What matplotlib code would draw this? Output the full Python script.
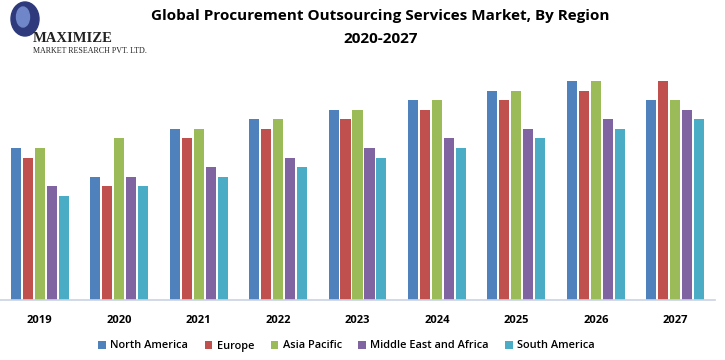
import numpy as np
import matplotlib.pyplot as plt
from matplotlib.patches import Ellipse

years = ['2019', '2020', '2021', '2022', '2023', '2024', '2025', '2026', '2027']
regions = ['North America', 'Europe', 'Asia Pacific', 'Middle East and Africa', 'South America']

# relative bar heights (no value axis shown)
north_america = [152, 123, 171, 181, 190, 200, 209, 219, 200]
europe = [142, 114, 162, 171, 181, 190, 200, 209, 219]
asia_pacific = [152, 162, 171, 181, 190, 200, 209, 219, 200]
middle_east_africa = [114, 123, 133, 142, 152, 162, 171, 181, 190]
south_america = [104, 114, 123, 133, 142, 152, 162, 171, 181]

series = [north_america, europe, asia_pacific, middle_east_africa, south_america]
colors = ['#4F81BD', '#C0504D', '#9BBB59', '#8064A2', '#4BACC6']

fig = plt.figure(figsize=(7.25, 3.6), dpi=100)
ax = fig.add_axes([0.0, 60 / 360, 715 / 725, 230 / 360])

x = np.arange(len(years))
step = 0.151
width = 0.126
for i, (vals, c) in enumerate(zip(series, colors)):
    ax.bar(x + (i - 2) * step, vals, width, color=c, label=regions[i])

ax.set_xlim(-0.5, len(years) - 0.5)
ax.set_ylim(0, 230)
ax.set_yticks([])
ax.set_xticks(x)
ax.set_xticklabels(years, fontsize=8, fontweight='bold', family='Open Sans')
ax.tick_params(axis='x', length=0, pad=11)
for s in ['top', 'right', 'left']:
    ax.spines[s].set_visible(False)
ax.spines['bottom'].set_color('#C9D3E3')
ax.spines['bottom'].set_linewidth(1.2)

fig.text(0.525, 0.955, 'Global Procurement Outsourcing Services Market, By Region',
         ha='center', va='center', fontsize=11, fontweight='bold', family='Open Sans')
fig.text(0.525, 0.893, '2020-2027', ha='center', va='center', fontsize=11,
         fontweight='bold', family='Open Sans')

# logo
fig.patches.append(Ellipse((25 / 725, 1 - 19 / 360), 28 / 725, 34 / 360,
                           transform=fig.transFigure, color='#2E3A7C', zorder=1))
fig.patches.append(Ellipse((23 / 725, 1 - 17 / 360), 13 / 725, 20 / 360,
                           transform=fig.transFigure, color='#6F86C9', zorder=2))
fig.text(33 / 725, 1 - 38 / 360, 'MAXIMIZE', fontsize=10.5, fontweight='bold',
         family='Liberation Serif', color='#222222', va='center', ha='left')
fig.text(33 / 725, 1 - 51 / 360, 'MARKET RESEARCH PVT. LTD.', fontsize=5.8,
         family='Liberation Serif', color='#222222', va='center', ha='left')

fig.legend(loc='center', bbox_to_anchor=(0.478, 1 - 346 / 360), ncol=5, frameon=False,
           prop={'family': 'Open Sans', 'size': 7.9, 'weight': 'semibold'},
           handlelength=0.7, handleheight=0.7, handletextpad=0.4, columnspacing=1.5)

fig.savefig('out.png', dpi=100)
